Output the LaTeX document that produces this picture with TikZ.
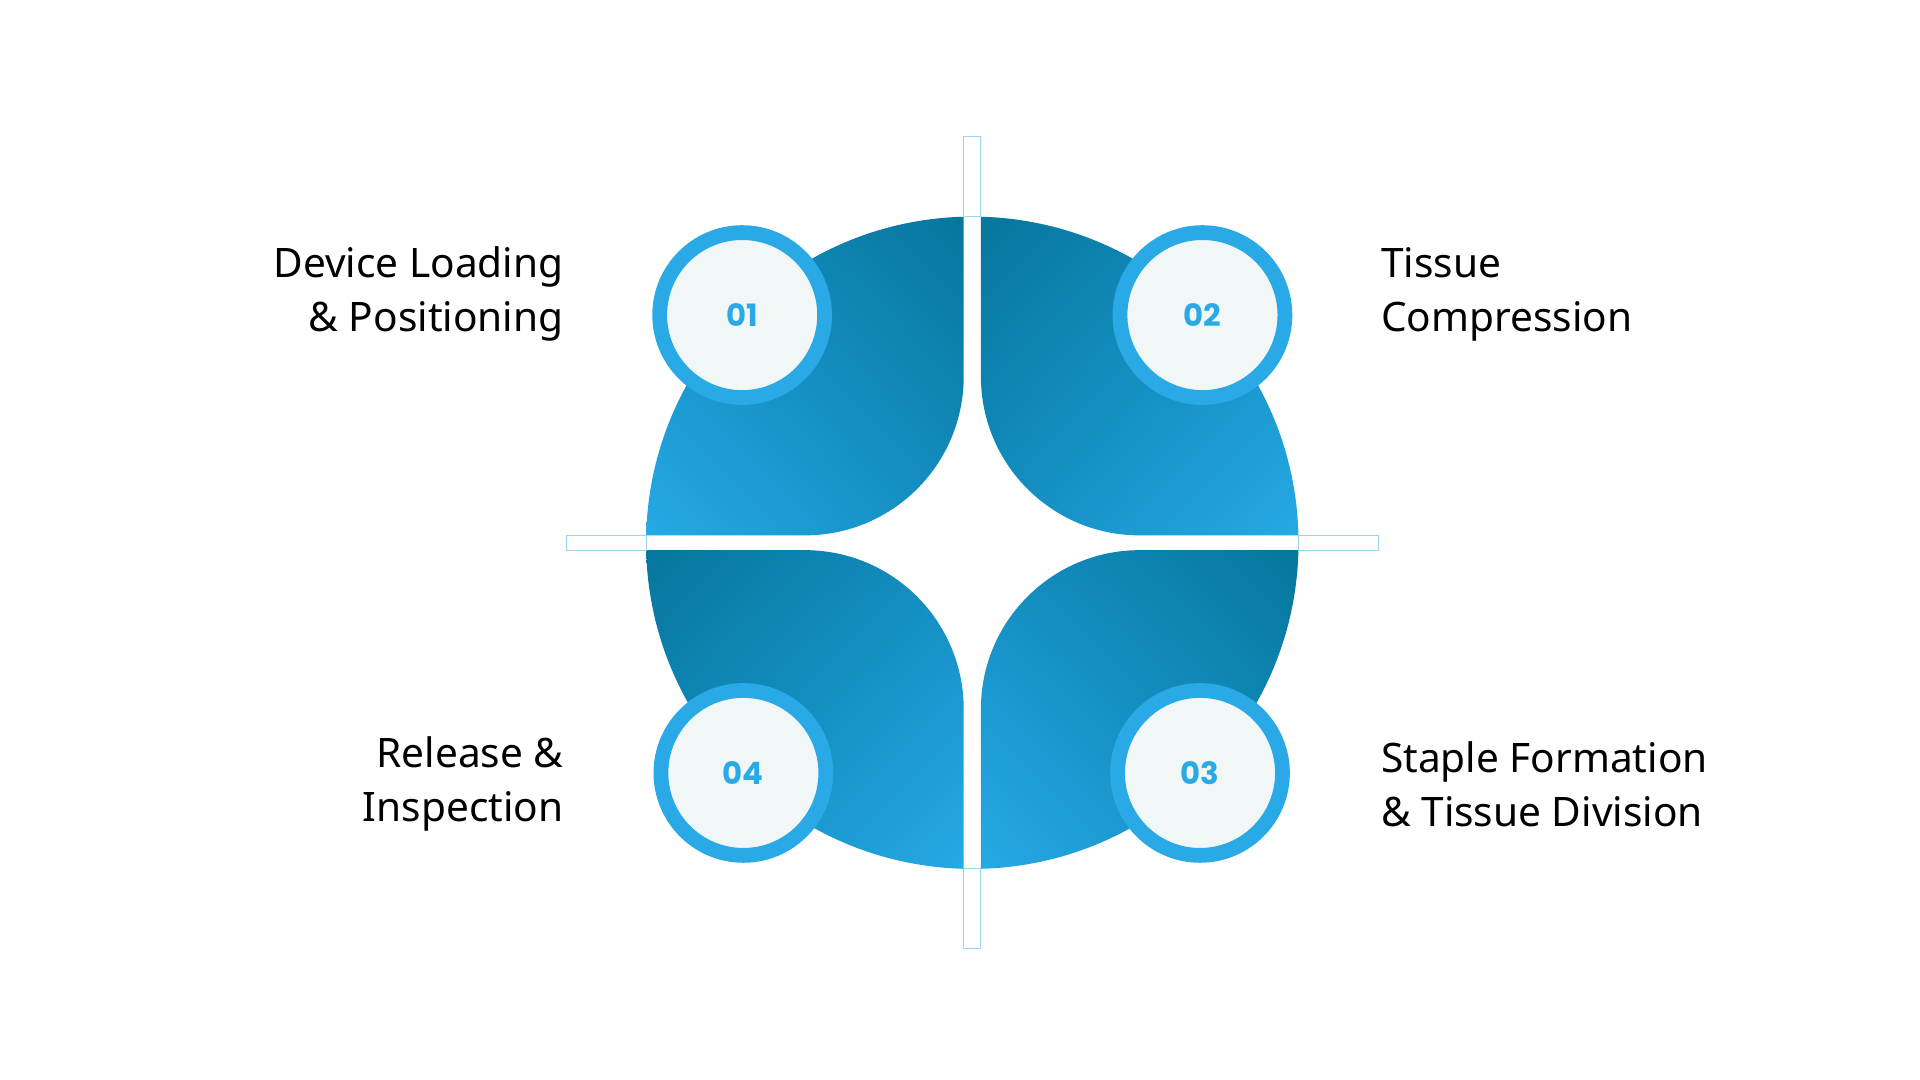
\documentclass[tikz,border=0pt]{standalone}
\usepackage{fontspec}
\setmainfont{Noto Sans}
\newfontfamily\numfont{Poppins}
\usetikzlibrary{positioning,shadings}
\definecolor{qdark}{HTML}{06779D}
\definecolor{qmid}{HTML}{138DC0}
\definecolor{qlight}{HTML}{26A9E6}
\definecolor{ringblue}{HTML}{29A9E6}
\definecolor{discfill}{HTML}{F1F6F7}
\definecolor{guide}{HTML}{9DD3EE}
\tikzset{
  % styles
  step disc/.style={
    circle,
    draw=ringblue,
    line width=12pt,
    fill=discfill,
    minimum size=134pt,
    inner sep=0pt,
    font=\numfont\bfseries\fontsize{25}{25}\selectfont,
    text=ringblue,
  },
  step label/.style={
    align=#1,
    font=\fontsize{33}{44}\selectfont,
    text=black,
    inner sep=0pt,
  },
  guide box/.style={
    draw=guide,
    line width=0.8pt,
    fill=white,
  },
}
\begin{document}
\begin{tikzpicture}[x=1pt,y=1pt]
  \useasboundingbox (-790,-436) rectangle (770,441);

  % quadrants
  \shade[upper right=qdark, lower left=qlight, upper left=qmid, lower right=qmid]
    (-7,135) -- (-7,264.9) arc[start angle=91.5, end angle=178.7, radius=265]
    -- (-136,6) arc[start angle=-90, end angle=0, radius=129] -- cycle;
  \shade[upper left=qdark, lower right=qlight, upper right=qmid, lower left=qmid]
    (7,135) -- (7,264.9) arc[start angle=88.5, end angle=1.3, radius=265]
    -- (136,6) arc[start angle=-90, end angle=-180, radius=129] -- cycle;
  \shade[upper right=qdark, lower left=qlight, upper left=qmid, lower right=qmid]
    (7,-135) -- (7,-264.9) arc[start angle=-88.5, end angle=-1.3, radius=265]
    -- (136,-6) arc[start angle=90, end angle=180, radius=129] -- cycle;
  \shade[upper left=qdark, lower right=qlight, upper right=qmid, lower left=qmid]
    (-7,-135) -- (-7,-264.9) arc[start angle=-91.5, end angle=-178.7, radius=265]
    -- (-136,-6) arc[start angle=90, end angle=0, radius=129] -- cycle;

  % guides
  \draw[guide box] (-7,265) rectangle (7,330);
  \draw[guide box] (-7,-265) rectangle (7,-330);
  \draw[guide box] (-330,-6) rectangle (-265,6);
  \draw[guide box] (265,-6) rectangle (330,6);

  % discs
  \node[step disc] (s1) at (-187,185) {01};
  \node[step disc] (s2) at (187,185)  {02};
  \node[step disc] (s3) at (185,-187) {03};
  \node[step disc] (s4) at (-186,-187) {04};

  % labels
  \node[step label=right, anchor=east] (l1) at (-332,202) {Device Loading\\\& Positioning};
  \node[step label=left, anchor=west]  (l2) at (332,202)  {Tissue\\Compression};
  \node[step label=left, anchor=west]  (l3) at (332,-196) {Staple Formation\\\& Tissue Division};
  \node[step label=right, anchor=east] (l4) at (-332,-196) {Release \&\\Inspection};
\end{tikzpicture}
\end{document}
